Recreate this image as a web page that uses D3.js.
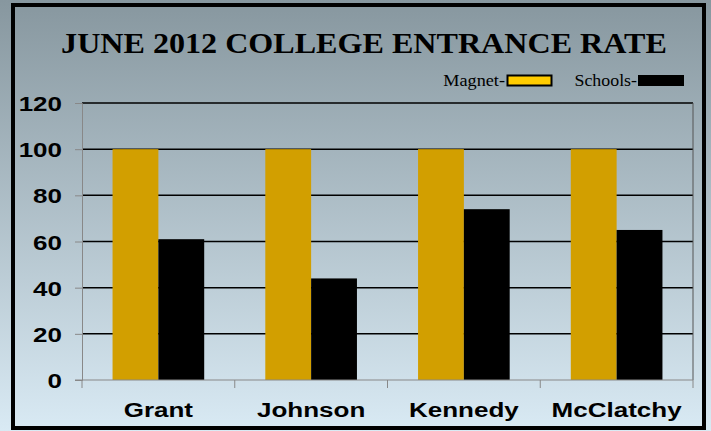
<!DOCTYPE html>
<html>
<head>
<meta charset="utf-8">
<script src="https://cdn.jsdelivr.net/npm/d3@7"></script>
<style>
  body { margin: 0; }
  svg { display: block; }
</style>
</head>
<body>
<script>
let schools = ["Grant", "Johnson", "Kennedy", "McClatchy"];
let magnet = [100, 100, 100, 100];
let schoolRate = [61, 44, 74, 65];
let yTicks = [0, 20, 40, 60, 80, 100, 120];

let W = 711, H = 431;
let margin = {top: 103, right: 18, bottom: 51, left: 82},
    width = W - margin.left - margin.right,
    height = H - margin.top - margin.bottom;

let serif = "'Liberation Serif', 'Times New Roman', serif";
let sans = "'Liberation Sans', Arial, sans-serif";

// the original picture is stretched sideways a bit
function stretch(sel, k) {
    sel.each(function () {
        let w = this.getComputedTextLength();
        d3.select(this)
            .attr("textLength", w * k)
            .attr("lengthAdjust", "spacingAndGlyphs");
    });
}

let svg = d3.select("body").append("svg")
    .attr("width", W)
    .attr("height", H);

// background gradient
let grad = svg.append("defs").append("linearGradient")
    .attr("id", "bg")
    .attr("x1", 0).attr("y1", 0).attr("x2", 0).attr("y2", 1);
grad.append("stop").attr("offset", "0%").attr("stop-color", "#87979f");
grad.append("stop").attr("offset", "100%").attr("stop-color", "#d9eaf4");

svg.append("rect")
    .attr("width", W).attr("height", H)
    .attr("fill", "url(#bg)");

svg.append("rect")
    .attr("x", 13).attr("y", 5)
    .attr("width", 691).attr("height", 423)
    .attr("fill", "none")
    .attr("stroke", "#000")
    .attr("stroke-width", 4);

// title
svg.append("text")
    .attr("x", 364).attr("y", 53)
    .attr("text-anchor", "middle")
    .style("font-family", serif)
    .style("font-weight", "bold")
    .style("font-size", "30px")
    .text("JUNE 2012 COLLEGE ENTRANCE RATE")
    .call(stretch, 1.07);

// legend
let legend = svg.append("g")
    .style("font-family", serif)
    .style("font-size", "17px");
legend.append("text").attr("x", 505).attr("y", 86)
    .attr("text-anchor", "end").text("Magnet-")
    .call(stretch, 1.07);
legend.append("rect").attr("x", 507.5).attr("y", 75.5)
    .attr("width", 44).attr("height", 10)
    .attr("fill", "#ffcc00").attr("stroke", "#000").attr("stroke-width", 2);
legend.append("text").attr("x", 637).attr("y", 86)
    .attr("text-anchor", "end").text("Schools-")
    .call(stretch, 1.05);
legend.append("rect").attr("x", 638).attr("y", 75)
    .attr("width", 46).attr("height", 11)
    .attr("fill", "#000");

let g = svg.append("g")
    .attr("transform", "translate(" + margin.left + "," + margin.top + ")");

let x = d3.scaleBand()
    .domain(schools)
    .range([0, width])
    .paddingInner(0.4)
    .paddingOuter(0.2);

let x1 = d3.scaleBand()
    .domain(["magnet", "schools"])
    .range([0, x.bandwidth()]);

let y = d3.scaleLinear()
    .domain([0, 120])
    .range([height, 0]);

// gridlines
g.selectAll("line.grid")
    .data(yTicks.filter(d => d > 0))
    .enter().append("line")
    .attr("class", "grid")
    .attr("x1", 0).attr("x2", width)
    .attr("y1", d => y(d)).attr("y2", d => y(d))
    .attr("stroke", "#000")
    .attr("stroke-width", 1.5);

// right frame
g.append("line")
    .attr("x1", width).attr("x2", width)
    .attr("y1", 0).attr("y2", height)
    .attr("stroke", "#555")
    .attr("stroke-width", 1);

// bars
let groups = g.selectAll("g.school")
    .data(schools)
    .enter().append("g")
    .attr("class", "school")
    .attr("transform", d => "translate(" + x(d) + ",0)");

groups.append("rect")
    .attr("x", x1("magnet"))
    .attr("width", x1.bandwidth())
    .attr("y", (d, i) => y(magnet[i]))
    .attr("height", (d, i) => height - y(magnet[i]))
    .attr("fill", "#d29f00");

groups.append("rect")
    .attr("x", x1("schools"))
    .attr("width", x1.bandwidth())
    .attr("y", (d, i) => y(schoolRate[i]))
    .attr("height", (d, i) => height - y(schoolRate[i]))
    .attr("fill", "#000");

// y axis
let yAxis = d3.axisLeft(y)
    .tickValues(yTicks)
    .tickSize(7)
    .tickPadding(13);

let yg = g.append("g").call(yAxis);
yg.select(".domain").attr("stroke", "#888");
yg.selectAll(".tick line").attr("stroke", "#888");
yg.selectAll("text")
    .attr("dy", "0.38em")
    .style("font-family", sans)
    .style("font-weight", "bold")
    .style("font-size", "20px")
    .attr("fill", "#000")
    .call(stretch, 1.3);

// x axis
g.append("line")
    .attr("x1", -7).attr("x2", width)
    .attr("y1", height).attr("y2", height)
    .attr("stroke", "#888");

let bounds = schools.map(d => x(d) - x.step() * x.paddingInner() / 2)
    .concat([width]);
bounds[0] = 0;
g.selectAll("line.xtick")
    .data(bounds)
    .enter().append("line")
    .attr("class", "xtick")
    .attr("x1", d => d).attr("x2", d => d)
    .attr("y1", height).attr("y2", height + 8)
    .attr("stroke", "#888");

g.selectAll("text.xlabel")
    .data(schools)
    .enter().append("text")
    .attr("class", "xlabel")
    .attr("x", d => x(d) + x.bandwidth() / 2)
    .attr("y", height + 37)
    .attr("text-anchor", "middle")
    .style("font-family", sans)
    .style("font-weight", "bold")
    .style("font-size", "20px")
    .text(d => d)
    .call(stretch, 1.3);
</script>
</body>
</html>
